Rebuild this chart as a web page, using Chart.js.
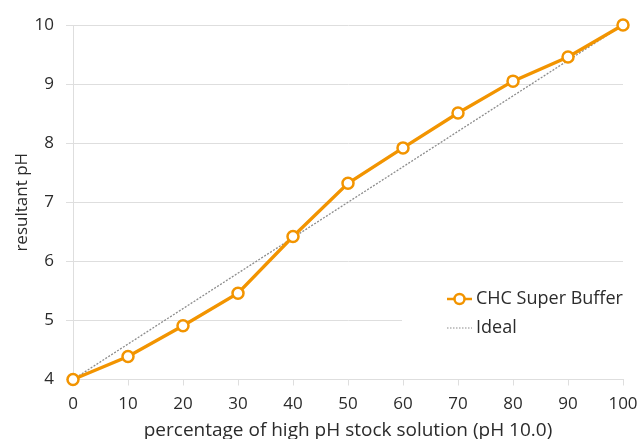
<!DOCTYPE html>
<html>
<head>
<meta charset="utf-8">
<script src="https://cdn.jsdelivr.net/npm/chart.js@4.4.1/dist/chart.umd.min.js"></script>
<style>
html, body { margin: 0; padding: 0; background: #fff; overflow: hidden; }
#wrap { width: 640px; height: 439px; overflow: hidden; }
</style>
</head>
<body>
<div id="wrap"><canvas id="chart" width="640" height="442"></canvas></div>
<script>
// values
const percentages = [0, 10, 20, 30, 40, 50, 60, 70, 80, 90, 100];
const bufferPH = [4.0, 4.39, 4.91, 5.46, 6.42, 7.32, 7.92, 8.51, 9.05, 9.46, 10.0];
const idealX = [0, 100];
const idealY = [4, 10];
const seriesNames = ['CHC Super Buffer', 'Ideal'];

const orange = '#f29400';
const grey = '#8c8c8c';
const gridColor = '#dedede';
const textColor = '#2b2b2b';
const fontFamily = "'Open Sans', 'Noto Sans', sans-serif";

function toPoints(xs, ys) {
    return xs.map((x, i) => ({ x: x, y: ys[i] }));
}

// legend drawn inside the plot, on a white patch that hides the grid behind it
const insideLegend = {
    id: 'insideLegend',
    beforeDatasetsDraw(chart) {
        const a = chart.chartArea;
        const ctx = chart.ctx;
        ctx.save();
        ctx.fillStyle = '#fff';
        ctx.fillRect(a.left + 329, a.bottom - 98, 260, 64);
        ctx.restore();
    },
    afterDraw(chart) {
        const a = chart.chartArea;
        const ctx = chart.ctx;
        const x0 = a.left + 374;
        const rows = [a.bottom - 80.5, a.bottom - 51.5];
        ctx.save();
        // series 1: line with open circle
        ctx.strokeStyle = orange;
        ctx.lineWidth = 2.5;
        ctx.beginPath();
        ctx.moveTo(x0, rows[0]);
        ctx.lineTo(x0 + 25, rows[0]);
        ctx.stroke();
        ctx.beginPath();
        ctx.arc(x0 + 12.5, rows[0], 5, 0, Math.PI * 2);
        ctx.fillStyle = '#fff';
        ctx.fill();
        ctx.lineWidth = 2.5;
        ctx.stroke();
        // series 2: dotted line
        ctx.strokeStyle = grey;
        ctx.lineWidth = 1.2;
        ctx.setLineDash([1.5, 1.5]);
        ctx.beginPath();
        ctx.moveTo(x0, rows[1]);
        ctx.lineTo(x0 + 25, rows[1]);
        ctx.stroke();
        ctx.setLineDash([]);
        ctx.fillStyle = textColor;
        ctx.font = '18px ' + fontFamily;
        ctx.textBaseline = 'middle';
        ctx.textAlign = 'left';
        ctx.fillText(seriesNames[0], x0 + 29, rows[0]);
        ctx.fillText(seriesNames[1], x0 + 29, rows[1]);
        ctx.restore();
    }
};

const ctx = document.getElementById('chart').getContext('2d');
new Chart(ctx, {
    type: 'line',
    data: {
        datasets: [{
            label: seriesNames[0],
            data: toPoints(percentages, bufferPH),
            borderColor: orange,
            borderWidth: 3.3,
            pointRadius: 5.5,
            pointBorderWidth: 2.5,
            pointBackgroundColor: '#fff',
            pointBorderColor: orange,
            tension: 0,
            clip: false
        }, {
            label: seriesNames[1],
            data: toPoints(idealX, idealY),
            borderColor: grey,
            borderWidth: 1.3,
            borderDash: [2, 1.5],
            pointRadius: 0,
            tension: 0,
            clip: false
        }]
    },
    options: {
        responsive: false,
        animation: false,
        layout: { padding: { top: 25, right: 17, left: 0, bottom: 0 } },
        plugins: {
            legend: { display: false },
            tooltip: { enabled: false }
        },
        scales: {
            x: {
                type: 'linear',
                min: 0,
                max: 100,
                ticks: { stepSize: 10, color: textColor, padding: 8, font: { family: fontFamily, size: 17 } },
                grid: { drawOnChartArea: false, tickLength: 6, color: gridColor },
                border: { color: gridColor },
                title: {
                    display: true,
                    text: 'percentage of high pH stock solution (pH 10.0)',
                    color: textColor,
                    padding: { top: 0, bottom: 0 },
                    font: { family: fontFamily, size: 19 }
                },
                afterFit(scale) {
                    scale.height = 62.5;
                    scale.paddingLeft = 0;
                    scale.paddingRight = 0;
                }
            },
            y: {
                min: 4,
                max: 10,
                ticks: { stepSize: 1, color: textColor, padding: 12, font: { family: fontFamily, size: 17 } },
                grid: { tickLength: 7, color: gridColor },
                border: { color: gridColor },
                title: {
                    display: true,
                    text: 'resultant pH',
                    color: textColor,
                    padding: { top: 12, bottom: 0 },
                    font: { family: fontFamily, size: 17 }
                },
                afterFit(scale) {
                    scale.width = 73;
                    scale.paddingTop = 0;
                    scale.paddingBottom = 0;
                }
            }
        }
    },
    plugins: [insideLegend]
});
</script>
</body>
</html>
